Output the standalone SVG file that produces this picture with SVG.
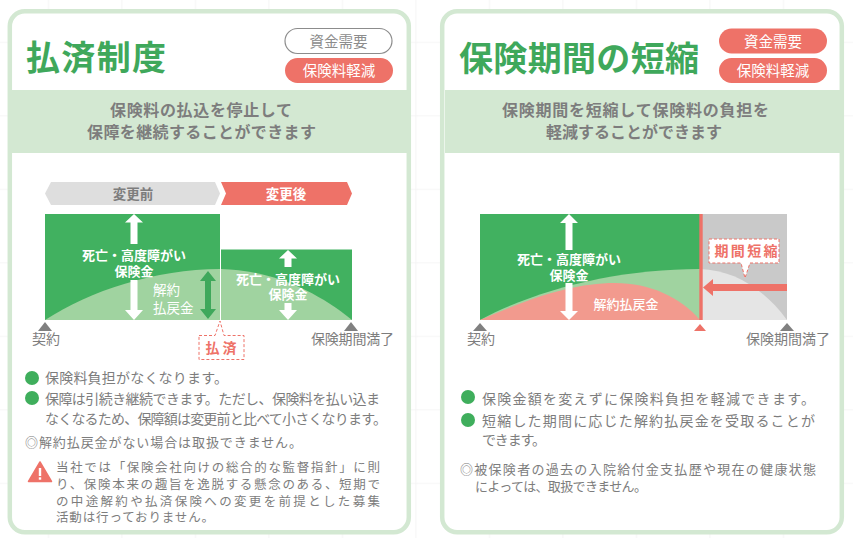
<svg xmlns="http://www.w3.org/2000/svg" width="853" height="538" viewBox="0 0 853 538">
<style>
text{font-family:"Noto Sans CJK JP","Noto Sans",sans-serif;fill:#7d7d7d}
.card{fill:#fff;stroke:#d3e8d2;stroke-width:4.5}
.band{fill:#d3e8d2}
.title{font-size:34px;font-weight:700;fill:#3fa85b}
.sub{font-size:16px;font-weight:700;text-anchor:middle}
.pill{fill:#ee7268}
.pillo{fill:#fff;stroke:#8c8c8c;stroke-width:1.2}
.pt{font-size:14.500px;fill:#fff;text-anchor:middle}
.pg{font-size:14.500px;fill:#8c8c8c;text-anchor:middle}
.g{fill:#41b160}.lg{fill:#a0d3a0}.ar{fill:#fff}
.w{font-size:13px;font-weight:700;fill:#fff;text-anchor:middle}
.ws{font-size:13.500px;fill:#fff}
.l{font-size:14px}
.b{font-size:14px}.n{font-size:13px}.m{font-size:12.5px}
.dot{fill:#3fae5c}
.dash{fill:#fff;stroke:#ee7268;stroke-width:1;stroke-dasharray:3 2}
.tri{fill:#808080}
.red{font-size:14px;font-weight:700;fill:#ee7268;text-anchor:middle}
</style>
<defs>
<pattern id="grid" width="73.5" height="73.5" patternUnits="userSpaceOnUse"><path d="M48.5 0V73.5M0 42.5H73.5" fill="none" stroke="#f5f5f5" stroke-width="1"/></pattern>
</defs>
<rect width="853" height="538" fill="#fff"/>
<rect width="853" height="538" fill="url(#grid)"/>

<g id="panel-left">
<rect class="card" x="9.8" y="11.2" width="399" height="521" rx="15"/>
<rect class="band" x="12" y="90" width="395" height="63"/>
<text class="title" x="26" y="70" textLength="140" lengthAdjust="spacing">払済制度</text>
<rect class="pillo" x="285" y="28.5" width="107" height="25" rx="12.5"/>
<text class="pg" x="338.5" y="46.500">資金需要</text>
<rect class="pill" x="285" y="58" width="108" height="25" rx="12.5"/>
<text class="pt" x="339" y="76">保険料軽減</text>
<text class="sub" x="201" y="116" textLength="182" lengthAdjust="spacing">保険料の払込を停止して</text>
<text class="sub" x="201.500" y="138" textLength="229" lengthAdjust="spacing">保障を継続することができます</text>

<g id="chart-left">
<polygon points="51,182 215,182 220,193.500 215,205 51,205 45,193.500" fill="#dedede"/>
<text x="133" y="199" font-size="13.500" font-weight="700" text-anchor="middle">変更前</text>
<polygon points="221,182 347,182 352,193.500 347,205 221,205 226,193.500" fill="#ee7268"/>
<text x="286" y="199" font-size="13.500" font-weight="700" text-anchor="middle" style="fill:#fff">変更後</text>
<rect class="g" x="45" y="214" width="175" height="106"/>
<rect class="g" x="221" y="249.500" width="131" height="70.500"/>
<path class="lg" d="M45 320C90 291 155 269 220 269V320Z"/>
<path class="lg" d="M221 269C270 270 315 290 352 320H221Z"/>
<rect x="220" y="214" width="1" height="106" fill="#fff"/>
<polygon class="ar" points="134,214 143,222.500 137.500,222.500 137.500,244 130.500,244 130.500,222.500 125,222.500"/>
<polygon class="ar" points="134,320 143,310 137.500,310 137.500,280 130.500,280 130.500,310 125,310"/>
<text class="w" x="134" y="260">死亡・高度障がい</text>
<text class="w" x="134" y="276">保険金</text>
<text class="ws" x="153" y="295">解約</text>
<text class="ws" x="153" y="313">払戻金</text>
<polygon points="208,271 216,281 211,281 211,309 216,309 208,319 200,309 205,309 205,281 200,281" fill="#3fa85b"/>
<polygon class="ar" points="288,250 297,258.500 291.500,258.500 291.500,267 284.500,267 284.500,258.500 279,258.500"/>
<polygon class="ar" points="288,320 297,310 291.500,310 291.500,303 284.500,303 284.500,310 279,310"/>
<text class="w" x="288" y="284">死亡・高度障がい</text>
<text class="w" x="288" y="299">保険金</text>
<polygon class="tri" points="45,322 52,331 38,331"/>
<polygon class="tri" points="351,322 358,331 344,331"/>
<text class="l" x="32" y="344" textLength="28" lengthAdjust="spacing">契約</text>
<text class="l" x="311" y="344" textLength="83" lengthAdjust="spacing">保険期間満了</text>
<path class="dash" d="M199 335.500H215L220 321L224 335.500H244V359.500H199Z"/>
<text class="red" x="221" y="352.500">払 済</text>
</g>

<circle class="dot" cx="32" cy="378" r="7"/>
<text class="b" x="45" y="383" textLength="183" lengthAdjust="spacing">保険料負担がなくなります。</text>
<circle class="dot" cx="32" cy="398" r="7"/>
<text class="b" x="45" y="404" textLength="335" lengthAdjust="spacing">保障は引続き継続できます。ただし、保険料を払い込ま</text>
<text class="b" x="45" y="424" textLength="342" lengthAdjust="spacing">なくなるため、保障額は変更前と比べて小さくなります。</text>
<text class="n" x="25" y="447" textLength="277" lengthAdjust="spacing">◎解約払戻金がない場合は取扱できません。</text>
<polygon points="40,462 51.500,481.500 28.500,481.500" fill="#ee7268" stroke="#ee7268" stroke-linejoin="round" stroke-width="1.500"/>
<rect x="38.800" y="468" width="2.400" height="8" fill="#fff"/>
<rect x="38.800" y="477.300" width="2.400" height="2.400" fill="#fff"/>
<text class="m" x="56" y="472" textLength="324" lengthAdjust="spacing">当社では「保険会社向けの総合的な監督指針」に則</text>
<text class="m" x="56" y="489" textLength="324" lengthAdjust="spacing">り、保険本来の趣旨を逸脱する懸念のある、短期で</text>
<text class="m" x="56" y="506" textLength="324" lengthAdjust="spacing">の中途解約や払済保険への変更を前提とした募集</text>
<text class="m" x="56" y="522" textLength="158" lengthAdjust="spacing">活動は行っておりません。</text>
</g>

<g id="panel-right">
<rect class="card" x="442.200" y="11.200" width="399.600" height="521" rx="15"/>
<rect class="band" x="445" y="90" width="395" height="63"/>
<text class="title" x="459" y="71" textLength="240" lengthAdjust="spacing">保険期間の短縮</text>
<rect class="pill" x="719" y="28.500" width="108" height="25" rx="12.500"/>
<text class="pt" x="773" y="46.500">資金需要</text>
<rect class="pill" x="719" y="58" width="108" height="25" rx="12.500"/>
<text class="pt" x="773" y="76">保険料軽減</text>
<text class="sub" x="635.500" y="116" textLength="267" lengthAdjust="spacing">保険期間を短縮して保険料の負担を</text>
<text class="sub" x="634" y="138" textLength="176" lengthAdjust="spacing">軽減することができます</text>

<g id="chart-right">
<rect class="g" x="480" y="214" width="220" height="106"/>
<rect x="700" y="214" width="87" height="106" fill="#c9c9c9"/>
<path class="lg" d="M480 320C540 288 620 269 700 269V320Z"/>
<path d="M700 269C735 270 765 290 787 320H700Z" fill="#e5e5e5"/>
<path d="M480 320C535 296 575 283 615 283C650 283 680 297 700 320Z" fill="#f29a8e"/>
<rect x="699.300" y="214" width="3.400" height="106" fill="#ee7268"/>
<polygon class="ar" points="569,214 578,223 572.500,223 572.500,250 565.500,250 565.500,223 560,223"/>
<polygon class="ar" points="569,320 578,311 572.500,311 572.500,283 565.500,283 565.500,311 560,311"/>
<text class="w" x="569" y="264">死亡・高度障がい</text>
<text class="w" x="569" y="280">保険金</text>
<text class="w" x="626" y="309" style="font-weight:500">解約払戻金</text>
<polygon points="703,287.500 713,279 713,284 787,284 787,291 713,291 713,296" fill="#ee7268"/>
<path class="dash" d="M709 239H779V263H750L745 278L741 263H709Z"/>
<text class="red" x="746" y="256" textLength="63" lengthAdjust="spacing">期間短縮</text>
<polygon class="tri" points="480,323 487,331 473,331"/>
<polygon points="700,324 706,331 694,331" fill="#ee7268"/>
<polygon class="tri" points="787,323 794,331 780,331"/>
<text class="l" x="467" y="344" textLength="28" lengthAdjust="spacing">契約</text>
<text class="l" x="746" y="344" textLength="84" lengthAdjust="spacing">保険期間満了</text>
</g>

<circle class="dot" cx="468" cy="397" r="7"/>
<text class="b" x="482" y="404" textLength="333" lengthAdjust="spacing">保険金額を変えずに保険料負担を軽減できます。</text>
<circle class="dot" cx="468" cy="420" r="7"/>
<text class="b" x="482" y="426" textLength="333" lengthAdjust="spacing">短縮した期間に応じた解約払戻金を受取ることが</text>
<text class="b" x="482" y="445" textLength="64" lengthAdjust="spacing">できます。</text>
<text class="n" x="460" y="474" textLength="356" lengthAdjust="spacing">◎被保険者の過去の入院給付金支払歴や現在の健康状態</text>
<text class="n" x="475" y="491" textLength="172" lengthAdjust="spacing">によっては、取扱できません。</text>
</g>
</svg>
